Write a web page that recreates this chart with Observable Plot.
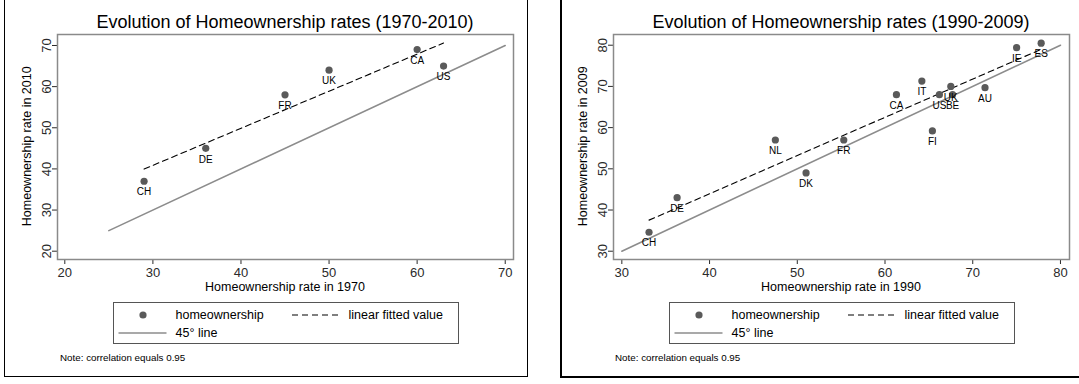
<!DOCTYPE html>
<html><head><meta charset="utf-8">
<script src="https://cdn.jsdelivr.net/npm/d3@7"></script>
<script src="https://cdn.jsdelivr.net/npm/@observablehq/plot@0.6"></script>
<style>
body{margin:0;background:#fff;font-family:"Liberation Sans",Arial,Helvetica,sans-serif;color:#000;}
#root{position:relative;width:1079px;height:384px;overflow:hidden;background:#fff;}
.abs{position:absolute;white-space:nowrap;}
</style></head><body><div id="root"></div>
<script>
// ---- data ----
const countriesA = ["CH","DE","FR","UK","CA","US"];
const rate1970 = [29, 36, 45, 50, 60, 63];
const rate2010 = [37, 45, 58, 64, 69, 65];

const countriesB = ["CH","DE","NL","DK","FR","CA","IT","FI","US","UK","BE","AU","IE","ES"];
const rate1990 = [33.1, 36.3, 47.5, 51.0, 55.3, 61.3, 64.2, 65.4, 66.2, 67.5, 67.7, 71.4, 75.0, 77.8];
const rate2009 = [34.6, 43.0, 57.0, 49.0, 57.0, 68.0, 71.3, 59.2, 68.0, 70.0, 68.0, 69.7, 79.4, 80.5];

const ticksA = [20, 30, 40, 50, 60, 70];
const ticksB = [30, 40, 50, 60, 70, 80];
const diagA = [25, 70];
const diagB = [30, 80];

const titleA = "Evolution of Homeownership rates (1970-2010)";
const titleB = "Evolution of Homeownership rates (1990-2009)";
const xTitleA = "Homeownership rate in 1970";
const yTitleA = "Homeownership rate in 2010";
const xTitleB = "Homeownership rate in 1990";
const yTitleB = "Homeownership rate in 2009";
const legendLabels = ["homeownership", "linear fitted value", "45\u00b0 line"];
const noteText = "Note: correlation equals 0.95";

const FONT = "'Liberation Sans', Arial, Helvetica, sans-serif";
const root = document.getElementById("root");

function addDiv(text, css) {
  const d = document.createElement("div");
  d.className = "abs";
  d.textContent = text;
  Object.assign(d.style, css);
  root.appendChild(d);
  return d;
}

function panel(cfg) {
  const data = cfg.names.map((n, i) => ({name: n, x: cfg.xs[i], y: cfg.ys[i]}));
  const chart = Plot.plot({
    width: cfg.width, height: 300,
    marginLeft: cfg.mL, marginRight: cfg.mR, marginTop: 34, marginBottom: 41,
    x: {domain: cfg.xDomain, ticks: cfg.ticks, tickSize: 5, tickPadding: 3, label: null, line: true},
    y: {domain: cfg.yDomain, ticks: cfg.ticks, tickSize: 5, tickPadding: 2, tickRotate: -90, label: null, line: true},
    style: {fontFamily: FONT, fontSize: "13px", color: "#2a2a2a", background: "transparent", overflow: "visible"},
    marks: [
      Plot.frame({stroke: "#8a8a8a", strokeWidth: 1.5}),
      Plot.line(cfg.diag, {x: d => d, y: d => d, stroke: "#8c8c8c", strokeWidth: 1.6}),
      Plot.linearRegressionY(data, {x: "x", y: "y", ci: 0, stroke: "#000", strokeWidth: 1.1, strokeDasharray: "6,4"}),
      Plot.dot(data, {x: "x", y: "y", r: 3.6, fill: "#5a5a5a", stroke: "none"}),
      Plot.text(data, {x: "x", y: "y", text: "name", dy: 11, fontSize: 10, fill: "#000"})
    ]
  });
  chart.style.position = "absolute";
  chart.style.left = cfg.left + "px";
  chart.style.top = "0px";
  root.appendChild(chart);

  const cx = cfg.frameCenter;
  addDiv(cfg.title, {left: (cx - 300) + "px", width: "600px", textAlign: "center", top: "12.8px", fontSize: "18px", lineHeight: "18px"});
  addDiv(cfg.xTitle, {left: (cx - 200) + "px", width: "400px", textAlign: "center", top: "281.4px", fontSize: "12.5px", lineHeight: "12.5px"});
  addDiv(cfg.yTitle, {left: (cfg.yTitleX - 150) + "px", width: "300px", textAlign: "center", top: (146.5 - 6.25) + "px", fontSize: "12.5px", lineHeight: "12.5px", transform: "rotate(-90deg)", transformOrigin: "50% 50%"});

  // legend box
  const bx = cfg.legendLeft, by = 302, bw = 346, bh = 42;
  const box = document.createElement("div");
  box.className = "abs";
  Object.assign(box.style, {left: bx + "px", top: by + "px", width: bw + "px", height: bh + "px", border: "1px solid #555", boxSizing: "border-box"});
  root.appendChild(box);
  const ns = "http://www.w3.org/2000/svg";
  const sw = document.createElementNS(ns, "svg");
  sw.setAttribute("width", bw); sw.setAttribute("height", bh);
  sw.style.position = "absolute"; sw.style.left = bx + "px"; sw.style.top = by + "px";
  const c = document.createElementNS(ns, "circle");
  c.setAttribute("cx", 30); c.setAttribute("cy", 13); c.setAttribute("r", 3.6); c.setAttribute("fill", "#5a5a5a");
  sw.appendChild(c);
  const l1 = document.createElementNS(ns, "line");
  l1.setAttribute("x1", 179); l1.setAttribute("x2", 228); l1.setAttribute("y1", 13); l1.setAttribute("y2", 13);
  l1.setAttribute("stroke", "#000"); l1.setAttribute("stroke-width", 1.1); l1.setAttribute("stroke-dasharray", "6,4");
  sw.appendChild(l1);
  const l2 = document.createElementNS(ns, "line");
  l2.setAttribute("x1", 5.5); l2.setAttribute("x2", 53.5); l2.setAttribute("y1", 31); l2.setAttribute("y2", 31);
  l2.setAttribute("stroke", "#8c8c8c"); l2.setAttribute("stroke-width", 1.6);
  sw.appendChild(l2);
  root.appendChild(sw);
  addDiv(legendLabels[0], {left: (bx + 63) + "px", top: "309px", fontSize: "12.5px", lineHeight: "12.5px"});
  addDiv(legendLabels[1], {left: (bx + 236) + "px", top: "309px", fontSize: "12.5px", lineHeight: "12.5px"});
  addDiv(legendLabels[2], {left: (bx + 63) + "px", top: "327px", fontSize: "12.5px", lineHeight: "12.5px"});
  addDiv(noteText, {left: cfg.noteLeft + "px", top: "352.7px", fontSize: "9.8px", lineHeight: "9.8px"});
  const b = document.createElement("div");
  b.className = "abs";
  Object.assign(b.style, cfg.border);
  root.appendChild(b);
}

panel({
  names: countriesA, xs: rate1970, ys: rate2010, ticks: ticksA, diag: diagA,
  xDomain: [19.17, 70.94], yDomain: [17.98, 72.67],
  width: 540, left: 0, mL: 57, mR: 27, frameCenter: 285, yTitleX: 26.5,
  title: titleA, xTitle: xTitleA, yTitle: yTitleA, legendLeft: 112.5, noteLeft: 60,
  border: {left: "3.5px", top: "-10px", width: "524px", height: "387px", border: "1.5px solid #000", boxSizing: "border-box"}
});
panel({
  names: countriesB, xs: rate1990, ys: rate2009, ticks: ticksB, diag: diagB,
  xDomain: [29.05, 81.03], yDomain: [27.99, 82.6],
  width: 539, left: 540, mL: 73, mR: 10, frameCenter: 841, yTitleX: 583,
  title: titleB, xTitle: xTitleB, yTitle: yTitleB, legendLeft: 668.5, noteLeft: 615,
  border: {left: "560px", top: "-10px", width: "600px", height: "388px", border: "2px solid #000", boxSizing: "border-box"}
});
</script>
</body></html>
